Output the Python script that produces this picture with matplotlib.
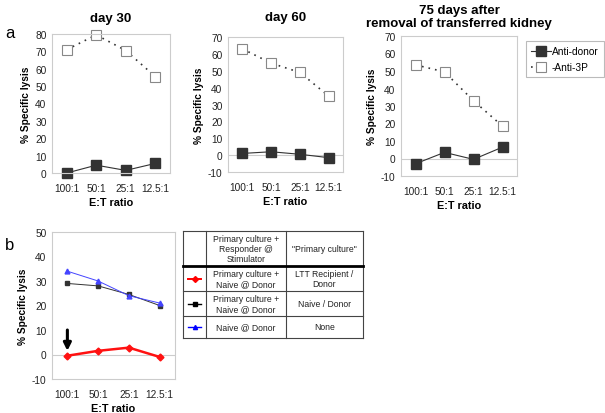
import matplotlib
matplotlib.use("Agg")
from matplotlib import pyplot as plt
from matplotlib.lines import Line2D

plt.rcParams['font.family'] = ['Liberation Sans', 'DejaVu Sans']
plt.rcParams['axes.unicode_minus'] = False

ratios = ['100:1', '50:1', '25:1', '12.5:1']

# panel a
day30_donor = [0, 4.5, 1.5, 5.5]
day30_3p = [71, 79.5, 70.5, 55.5]
day60_donor = [1, 2, 0.5, -1.5]
day60_3p = [63, 54.5, 49, 35]
day75_donor = [-3, 3.5, -0.5, 6.5]
day75_3p = [53.5, 49.5, 33, 18.5]

# panel b
b_red = [-0.5, 1.5, 2.8, -1.0]
b_black = [29, 28, 24.5, 20]
b_blue = [34, 30, 24, 21]

table_header = ['', 'Primary culture +\nResponder @\nStimulator', '"Primary culture"']
table_rows = [
    ['Primary culture +\nNaive @ Donor', 'LTT Recipient /\nDonor'],
    ['Primary culture +\nNaive @ Donor', 'Naive / Donor'],
    ['Naive @ Donor', 'None'],
]
table_styles = [('red', 'D'), ('black', 's'), ('blue', '^')]

W, H = 605, 414
fig = plt.figure(figsize=(W / 100, H / 100), dpi=100)


def add_ax(left, top, right, bottom):
    return fig.add_axes([left / W, 1 - bottom / H, (right - left) / W, (bottom - top) / H])


def style_ax(ax, ylim, yticks, zero_line=True):
    x = range(len(ratios))
    ax.set_xlim(-0.5, len(ratios) - 0.5)
    ax.set_ylim(*ylim)
    ax.set_yticks(yticks)
    ax.set_xticks(list(x))
    ax.set_xticklabels(ratios)
    ax.tick_params(axis='both', length=0, labelsize=7.3, colors='#222222')
    ax.tick_params(axis='x', pad=7)
    ax.tick_params(axis='y', pad=4)
    for s in ax.spines.values():
        s.set_color('#cccccc')
        s.set_linewidth(0.8)
    if zero_line:
        ax.axhline(0, color='#cccccc', lw=0.8, zorder=0)
    ax.set_ylabel('% Specific lysis', fontsize=7.3, fontweight='bold', labelpad=3)
    ax.set_xlabel('E:T ratio', fontsize=7.8, fontweight='bold', labelpad=3)


def plot_a(ax, donor, p3):
    x = range(len(ratios))
    ax.plot(x, donor, color='#333333', lw=0.8, marker='s', ms=6.5,
            mfc='#333333', mec='#333333', label='Anti-donor', clip_on=False)
    ax.plot(x, p3, color='#333333', lw=1.2, ls=(0, (1, 3)), marker='s', ms=6.5,
            mfc='white', mec='#888888', mew=0.8, label='-Anti-3P', clip_on=False)


ax1 = add_ax(52, 35, 170, 174)
plot_a(ax1, day30_donor, day30_3p)
style_ax(ax1, (0, 80), range(0, 81, 10), zero_line=False)
ax1.set_title('day 30', fontsize=9.5, fontweight='bold', pad=9)

ax2 = add_ax(228, 38, 343, 173)
plot_a(ax2, day60_donor, day60_3p)
style_ax(ax2, (-10, 70), range(-10, 71, 10))
ax2.set_title('day 60', fontsize=9.5, fontweight='bold', pad=12)

ax3 = add_ax(401, 37, 517, 177)
plot_a(ax3, day75_donor, day75_3p)
style_ax(ax3, (-10, 70), range(-10, 71, 10))
ax3.set_title('75 days after\nremoval of transferred kidney', fontsize=9.5,
              fontweight='bold', pad=7, linespacing=1.15)

leg = ax3.legend(loc='upper left', bbox_to_anchor=(1.03, 1.0), fontsize=7.3,
                 frameon=True, fancybox=False, handlelength=2.0,
                 handletextpad=0.1, borderpad=0.5, labelspacing=0.6)
leg.get_frame().set_edgecolor('#aaaaaa')
leg.get_frame().set_linewidth(0.8)

fig.text(5 / W, 1 - 33 / H, 'a', fontsize=12, va='center')
fig.text(5 / W, 1 - 246 / H, 'b', fontsize=12, va='center')

# panel b
axb = add_ax(52, 233, 175, 380)
xb = range(len(ratios))
axb.plot(xb, b_black, color='#333333', lw=0.7, marker='s', ms=3.5, zorder=3)
axb.plot(xb, b_blue, color='#4444ff', lw=0.7, marker='^', ms=3.5, zorder=3)
axb.plot(xb, b_red, color='#ff1111', lw=1.8, marker='D', ms=3.5, zorder=4)
style_ax(axb, (-10, 50), range(-10, 51, 10))
axb.annotate('', xy=(0, 1.5), xytext=(0, 10),
             arrowprops=dict(arrowstyle='-|>', color='black', lw=2.2,
                             mutation_scale=11, shrinkA=0, shrinkB=0))

# table
axt = add_ax(183, 232, 363, 339)
axt.axis('off')
col_w = [23, 80, 77]
row_h = [35, 25, 25, 22]
tot_w = sum(col_w)
tot_h = sum(row_h)
axt.set_xlim(0, tot_w)
axt.set_ylim(tot_h, 0)
cx = [0, col_w[0], col_w[0] + col_w[1], tot_w]
ry = [0]
for h in row_h:
    ry.append(ry[-1] + h)
lc = '#444444'
for xv in cx:
    axt.plot([xv, xv], [0, tot_h], color=lc, lw=0.8, clip_on=False)
for i, yv in enumerate(ry):
    axt.plot([0, tot_w], [yv, yv], color='black' if i == 1 else lc,
             lw=2.0 if i == 1 else 0.8, clip_on=False)

for j, txt in enumerate(table_header):
    axt.text((cx[j] + cx[j + 1]) / 2, ry[1] / 2, txt, ha='center', va='center',
             fontsize=6.2, linespacing=1.2, color='#222222')
for i, row in enumerate(table_rows):
    yc = (ry[i + 1] + ry[i + 2]) / 2
    col, mk = table_styles[i]
    axt.add_line(Line2D([5, 18], [yc, yc], color=col,
                        lw=1.4 if col == 'red' else 1.0))
    axt.plot([11.5], [yc], marker=mk, color=col, ms=3)
    for j, txt in enumerate(row):
        axt.text((cx[j + 1] + cx[j + 2]) / 2, yc, txt, ha='center', va='center',
                 fontsize=6.2, linespacing=1.2, color='#222222')

fig.savefig('out.png', dpi=100)
